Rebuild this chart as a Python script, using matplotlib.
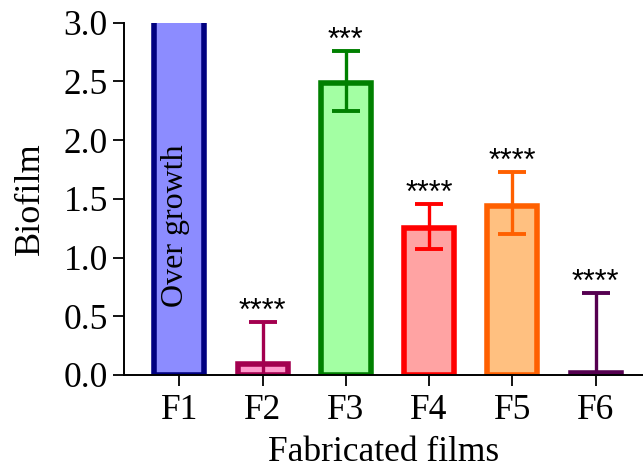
import matplotlib
matplotlib.use('Agg')
import matplotlib.pyplot as plt

films = ['F1', 'F2', 'F3', 'F4', 'F5', 'F6']
biofilm = [3.3, 0.09, 2.49, 1.25, 1.44, 0.02]
sd_up = [0.0, 0.36, 0.27, 0.21, 0.29, 0.68]
sd_down = [0.0, 0.09, 0.24, 0.18, 0.24, 0.02]
stars = ['', '****', '***', '****', '****', '****']

fills = ['#8c8cff', '#ff99cc', '#a3ffa3', '#ffa3a3', '#ffc080', '#c080c0']
edges = ['#000080', '#a3004f', '#008000', '#ff0000', '#ff6000', '#550050']

plt.rcParams['font.family'] = ['Liberation Serif', 'DejaVu Serif']


def main():
    fig = plt.figure(figsize=(6.43, 4.74), dpi=100)
    ax = fig.add_axes([0.1928, 0.2089, 0.8072, 0.7432])

    x = list(range(len(films)))
    ax.bar(x, biofilm, width=0.6, color=fills, edgecolor=edges, linewidth=4)

    for i in range(1, len(films)):
        ax.errorbar(x[i], biofilm[i], yerr=[[sd_down[i]], [sd_up[i]]],
                    fmt='none', ecolor=edges[i], elinewidth=2.4,
                    capsize=10, capthick=2.8)
        ax.annotate(stars[i], (x[i], biofilm[i] + sd_up[i]),
                    xytext=(0, 1.5), textcoords='offset points',
                    ha='center', va='baseline', fontsize=22,
                    family='Liberation Sans')

    ax.text(-0.05, 1.27, 'Over growth', rotation=90, ha='center',
            va='center', fontsize=23)

    ax.set_xlim(-0.665, 5.57)
    ax.set_ylim(0, 3.0)
    ax.set_yticks([0, 0.5, 1.0, 1.5, 2.0, 2.5, 3.0])
    ax.set_yticklabels(['0.0', '0.5', '1.0', '1.5', '2.0', '2.5', '3.0'])
    ax.set_xticks(x)
    ax.set_xticklabels(films)
    ax.tick_params(axis='both', labelsize=25.5, length=8, width=1.3,
                   direction='out')
    ax.tick_params(axis='y', pad=3.5)
    ax.tick_params(axis='x', pad=6)
    for side in ['top', 'right']:
        ax.spines[side].set_visible(False)
    for side in ['left', 'bottom']:
        ax.spines[side].set_linewidth(1.4)

    ax.set_ylabel('Biofilm', fontsize=26, labelpad=12)
    ax.set_xlabel('Fabricated films', fontsize=25.5, labelpad=6)

    fig.savefig('out.png', dpi=100)


if __name__ == '__main__':
    main()
